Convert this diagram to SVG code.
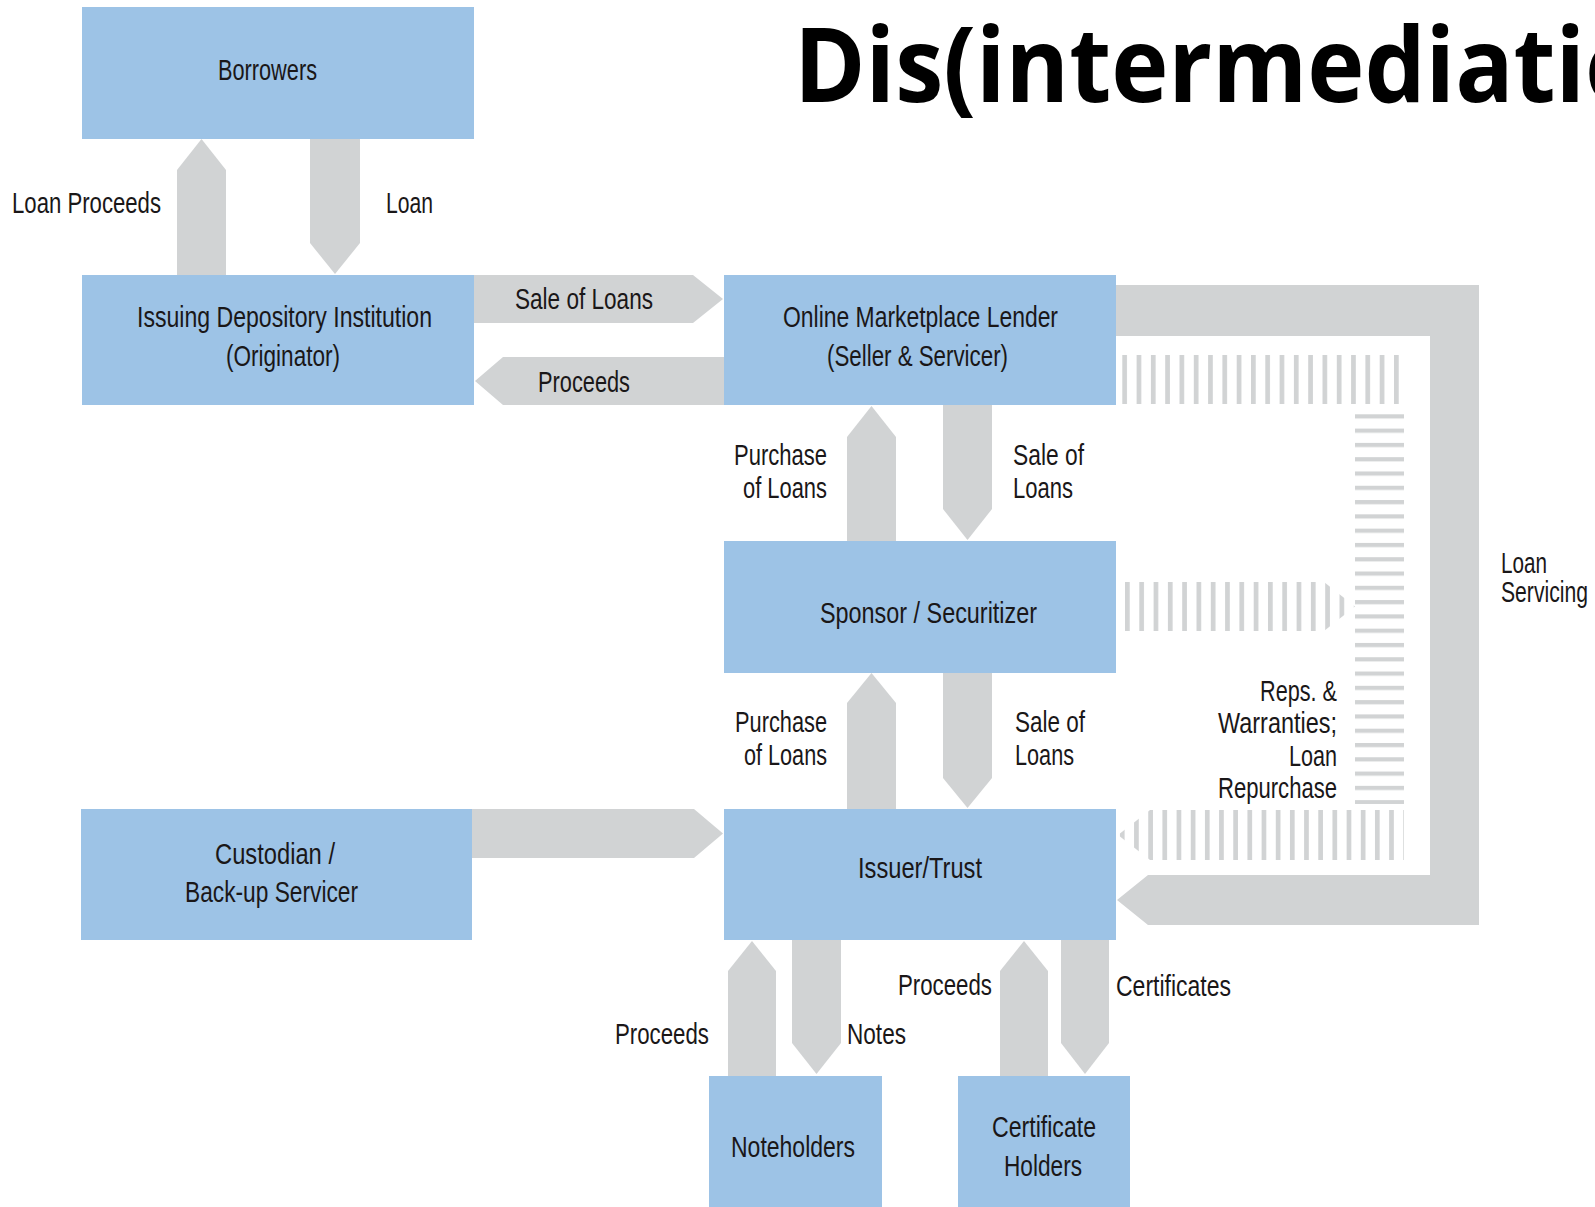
<svg xmlns="http://www.w3.org/2000/svg" width="1595" height="1207" viewBox="0 0 1595 1207">
<style>
.box{fill:#9DC3E6}
.arr{fill:#D1D3D4}
.t{font-family:"Liberation Sans Narrow","Liberation Sans",Arial,sans-serif;font-size:29px;fill:#1A1718}
.title{font-family:"Open Sans","Noto Sans","DejaVu Sans",sans-serif;font-weight:bold;font-size:104px;fill:#000}
</style>
<defs>
<pattern id="hTop" patternUnits="userSpaceOnUse" x="1122.3" y="0" width="14.3" height="10"><rect x="0" y="0" width="4.7" height="10" fill="#D1D3D4"/></pattern>
<pattern id="hMid" patternUnits="userSpaceOnUse" x="1125" y="0" width="14.3" height="10"><rect x="0" y="0" width="4.7" height="10" fill="#D1D3D4"/></pattern>
<pattern id="hBot" patternUnits="userSpaceOnUse" x="1119.9" y="0" width="14.17" height="10"><rect x="0" y="0" width="4.7" height="10" fill="#D1D3D4"/></pattern>
<pattern id="hVer" patternUnits="userSpaceOnUse" x="0" y="414.3" width="10" height="14.29"><rect x="0" y="0" width="10" height="4.2" fill="#D1D3D4"/></pattern>
</defs>
<rect width="1595" height="1207" fill="#fff"/>

<text class="title" x="794" y="102" textLength="851" lengthAdjust="spacingAndGlyphs">Dis(intermediatio</text>

<g id="connectors">
  <polygon class="arr" points="177,275 177,170 201.5,139 226,170 226,275"/>
  <polygon class="arr" points="310,139 360,139 360,243 335,274 310,243"/>
  <polygon class="arr" points="474,275 693,275 723,299 693,323 474,323"/>
  <polygon class="arr" points="724,357 503,357 475,381 503,405 724,405"/>
  <polygon class="arr" points="847,541 847,437 871.5,406 896,437 896,541"/>
  <polygon class="arr" points="943,405 992,405 992,509 967.5,540 943,509"/>
  <polygon class="arr" points="847,809 847,703 871.5,673 896,703 896,809"/>
  <polygon class="arr" points="943,673 992,673 992,778 967.5,808 943,778"/>
  <polygon class="arr" points="472,809 694,809 723,833.5 694,858 472,858"/>
  <polygon class="arr" points="728,1076 728,971 752,941 776,971 776,1076"/>
  <polygon class="arr" points="792,940 841,940 841,1043 816.5,1074 792,1043"/>
  <polygon class="arr" points="1000,1076 1000,971 1024,941 1048,971 1048,1076"/>
  <polygon class="arr" points="1061,940 1109,940 1109,1043 1085,1074 1061,1043"/>
  <polygon class="arr" points="1116,285 1479,285 1479,925 1148,925 1117,900 1148,875 1430,875 1430,336 1116,336"/>
  <rect x="1116" y="355" width="284" height="49" fill="url(#hTop)"/>
  <rect x="1355" y="414" width="49" height="390" fill="url(#hVer)"/>
  <polygon points="1116,582 1324,582 1355,606.5 1324,631 1116,631" fill="url(#hMid)"/>
  <polygon points="1404,810 1150,810 1118,835 1150,860 1404,860" fill="url(#hBot)"/>

  <text class="t" x="12" y="213" textLength="149" lengthAdjust="spacingAndGlyphs">Loan Proceeds</text>
  <text class="t" x="386" y="213" textLength="47" lengthAdjust="spacingAndGlyphs">Loan</text>
  <text class="t" x="515" y="309" textLength="138" lengthAdjust="spacingAndGlyphs">Sale of Loans</text>
  <text class="t" x="538" y="392" textLength="92" lengthAdjust="spacingAndGlyphs">Proceeds</text>
  <text class="t" x="734" y="465" textLength="93" lengthAdjust="spacingAndGlyphs">Purchase</text>
  <text class="t" x="743" y="498" textLength="84" lengthAdjust="spacingAndGlyphs">of Loans</text>
  <text class="t" x="1013" y="465" textLength="71" lengthAdjust="spacingAndGlyphs">Sale of</text>
  <text class="t" x="1013" y="498" textLength="60" lengthAdjust="spacingAndGlyphs">Loans</text>
  <text class="t" x="735" y="732" textLength="92" lengthAdjust="spacingAndGlyphs">Purchase</text>
  <text class="t" x="744" y="765" textLength="83" lengthAdjust="spacingAndGlyphs">of Loans</text>
  <text class="t" x="1015" y="732" textLength="70" lengthAdjust="spacingAndGlyphs">Sale of</text>
  <text class="t" x="1015" y="765" textLength="59" lengthAdjust="spacingAndGlyphs">Loans</text>
  <text class="t" x="1260" y="701" textLength="77" lengthAdjust="spacingAndGlyphs">Reps. &amp;</text>
  <text class="t" x="1218" y="733" textLength="119" lengthAdjust="spacingAndGlyphs">Warranties;</text>
  <text class="t" x="1289" y="766" textLength="48" lengthAdjust="spacingAndGlyphs">Loan</text>
  <text class="t" x="1218" y="798" textLength="119" lengthAdjust="spacingAndGlyphs">Repurchase</text>
  <text class="t" x="1501" y="573" textLength="46" lengthAdjust="spacingAndGlyphs">Loan</text>
  <text class="t" x="1501" y="602" textLength="87" lengthAdjust="spacingAndGlyphs">Servicing</text>
  <text class="t" x="615" y="1044" textLength="94" lengthAdjust="spacingAndGlyphs">Proceeds</text>
  <text class="t" x="847" y="1044" textLength="59" lengthAdjust="spacingAndGlyphs">Notes</text>
  <text class="t" x="898" y="995" textLength="94" lengthAdjust="spacingAndGlyphs">Proceeds</text>
  <text class="t" x="1116" y="996" textLength="115" lengthAdjust="spacingAndGlyphs">Certificates</text>
</g>

<g id="borrowers">
  <rect class="box" x="82" y="7" width="392" height="132"/>
  <text class="t" x="218" y="80" textLength="99" lengthAdjust="spacingAndGlyphs">Borrowers</text>
</g>
<g id="issuing">
  <rect class="box" x="82" y="275" width="392" height="130"/>
  <text class="t" x="137" y="327" textLength="295" lengthAdjust="spacingAndGlyphs">Issuing Depository Institution</text>
  <text class="t" x="226" y="366" textLength="114" lengthAdjust="spacingAndGlyphs">(Originator)</text>
</g>
<g id="online">
  <rect class="box" x="724" y="275" width="392" height="130"/>
  <text class="t" x="783" y="327" textLength="275" lengthAdjust="spacingAndGlyphs">Online Marketplace Lender</text>
  <text class="t" x="827" y="366" textLength="181" lengthAdjust="spacingAndGlyphs">(Seller &amp; Servicer)</text>
</g>
<g id="sponsor">
  <rect class="box" x="724" y="541" width="392" height="132"/>
  <text class="t" x="820" y="623" textLength="217" lengthAdjust="spacingAndGlyphs">Sponsor / Securitizer</text>
</g>
<g id="issuer">
  <rect class="box" x="724" y="809" width="392" height="131"/>
  <text class="t" x="858" y="878" textLength="124" lengthAdjust="spacingAndGlyphs">Issuer/Trust</text>
</g>
<g id="custodian">
  <rect class="box" x="81" y="809" width="391" height="131"/>
  <text class="t" x="215" y="864" textLength="120" lengthAdjust="spacingAndGlyphs">Custodian /</text>
  <text class="t" x="185" y="902" textLength="173" lengthAdjust="spacingAndGlyphs">Back-up Servicer</text>
</g>
<g id="noteholders">
  <rect class="box" x="709" y="1076" width="173" height="131"/>
  <text class="t" x="731" y="1157" textLength="124" lengthAdjust="spacingAndGlyphs">Noteholders</text>
</g>
<g id="certholders">
  <rect class="box" x="958" y="1076" width="172" height="131"/>
  <text class="t" x="992" y="1137" textLength="104" lengthAdjust="spacingAndGlyphs">Certificate</text>
  <text class="t" x="1004" y="1176" textLength="78" lengthAdjust="spacingAndGlyphs">Holders</text>
</g>
</svg>
